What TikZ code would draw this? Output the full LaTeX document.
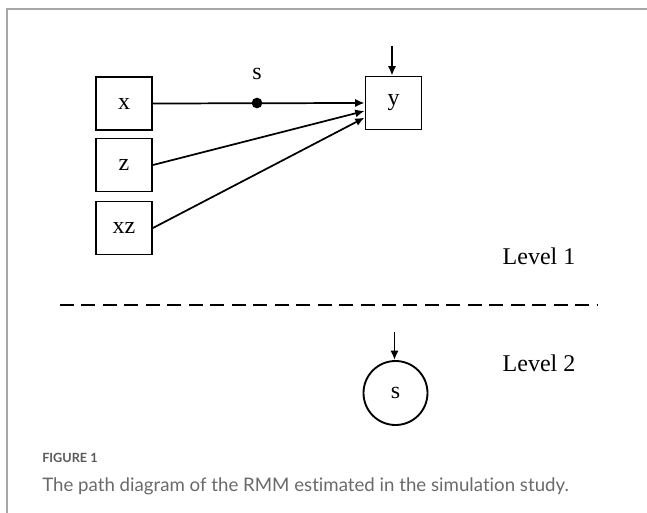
\documentclass[tikz,border=0pt]{standalone}
\usepackage{fontspec}
\setmainfont{Liberation Serif}
\newfontfamily\capfont[Ligatures=NoCommon]{Lato}
\usetikzlibrary{arrows.meta,calc}
\definecolor{framegray}{HTML}{A8A8A8}
\definecolor{capgray}{HTML}{6A6A6A}
\definecolor{figgray}{HTML}{5A5A5A}
\begin{document}
\begin{tikzpicture}[x=0.75pt,y=-0.75pt,
  every node/.style={font=\fontsize{18}{20}\selectfont},
  var/.style={draw,line width=1.4pt,minimum width=42pt,minimum height=39.75pt,inner sep=0pt},
  latent/.style={draw,circle,line width=1.4pt,minimum size=48pt,inner sep=0pt},
  path/.style={line width=1.3pt,-{Latex[length=7pt,width=6pt]}},
  caption/.style={anchor=west,inner sep=0pt}]
\useasboundingbox (0,0) rectangle (647,513);
% page frame (top and left rules)
\draw[framegray,line width=1pt] (647,9) -- (7,9) -- (7,513);
% level 1 variables
\node[var] (x) at (124,103.5) {x};
\node[var] (z) at (124,165) {z};
\node[var] (xz) at (124,228) {xz};
\node[var] (y) at (393.5,103) {y};
\coordinate (ey) at (392,46);
% random slope on the x -> y path
\node[circle,fill,inner sep=0pt,minimum size=8pt] (dot) at (257,103) {};
\node (slab) at (257,74) {s};
\draw[path] (x.east) -- (y.west);
\draw[path] (z.east) -- ([yshift=-6pt]y.west);
\draw[path] (xz.east) -- ([yshift=-11pt]y.west);
\draw[path] (ey) -- (ey |- y.north);
\node[anchor=west] (l1) at (498,256) {Level 1};
% separator between levels
\draw[line width=1.3pt,dash pattern=on 10.5pt off 5.6pt] (60,305) -- (598,305);
% level 2
\node[latent] (s) at (395.5,393) {s};
\coordinate (es) at (394.5,332);
\draw[path] (es) -- (es |- s.north);
\node[anchor=west] (l2) at (498,363) {Level 2};
% caption
\node[caption,text=figgray,font=\capfont\bfseries\fontsize{9.5}{11}\selectfont] (fig) at (42,458) {FIGURE 1};
\node[caption,text=capgray,font=\capfont\fontsize{14}{16}\selectfont] (cap) at (42,486) {The path diagram of the RMM estimated in the simulation study.};
\end{tikzpicture}
\end{document}
